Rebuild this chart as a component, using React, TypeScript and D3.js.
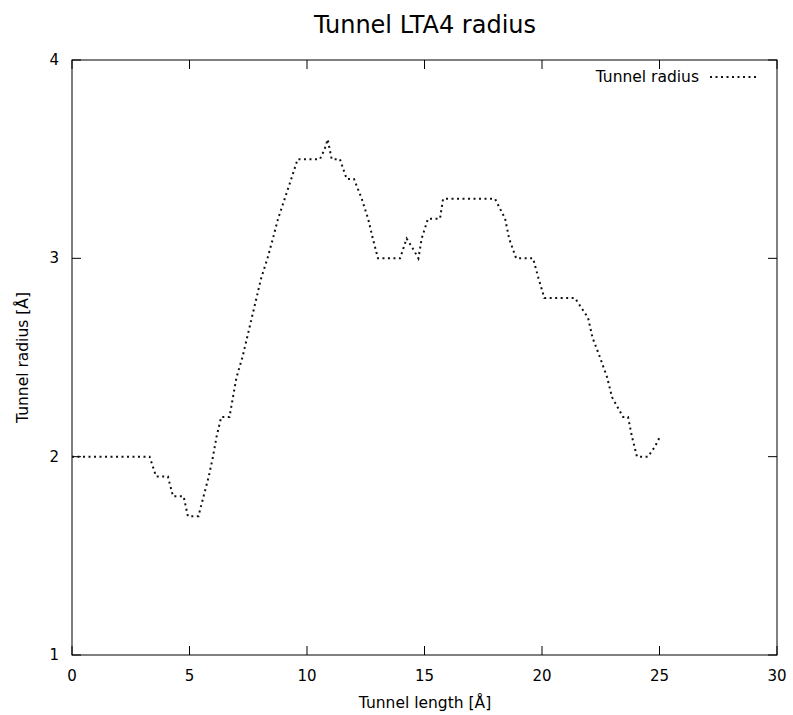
import React from "react";
import * as d3 from "d3";

const title = "Tunnel LTA4 radius";
const xLabel = "Tunnel length [Å]";
const yLabel = "Tunnel radius [Å]";
const seriesName = "Tunnel radius";

const xTicks = [0, 5, 10, 15, 20, 25, 30];
const yTicks = [1, 2, 3, 4];

const lengths = [
  0, 3.3, 3.58, 4.08, 4.3, 4.75, 4.93, 5.38, 5.6, 5.82, 6.0, 6.15, 6.35, 6.7,
  6.85, 7.0, 7.25, 7.45, 7.65, 7.85, 8.05, 8.32, 8.55, 8.77, 9.05, 9.33, 9.6,
  10.55, 10.75, 10.88, 11.05, 11.4, 11.69, 12.0, 12.33, 12.6, 12.8, 13.02, 13.96,
  14.24, 14.5, 14.74, 14.88, 15.15, 15.66, 15.79, 18.0, 18.43, 18.6, 18.9, 19.62,
  19.85, 20.1, 21.4, 21.96, 22.15, 22.47, 22.77, 22.98, 23.45, 23.66, 23.83, 24.04,
  24.51, 24.8, 25.02,
];
const radii = [
  2.0, 2.0, 1.9, 1.9, 1.8, 1.8, 1.7, 1.7, 1.8, 1.9, 2.0, 2.1, 2.2, 2.2,
  2.3, 2.4, 2.5, 2.6, 2.7, 2.8, 2.9, 3.0, 3.1, 3.2, 3.3, 3.4, 3.5,
  3.5, 3.55, 3.6, 3.5, 3.5, 3.4, 3.4, 3.3, 3.2, 3.1, 3.0, 3.0,
  3.1, 3.05, 3.0, 3.1, 3.2, 3.2, 3.3, 3.3, 3.2, 3.1, 3.0, 3.0,
  2.9, 2.8, 2.8, 2.7, 2.6, 2.5, 2.4, 2.3, 2.2, 2.2, 2.1, 2.0,
  2.0, 2.05, 2.1,
];

const W = 793;
const H = 715;
const M = { left: 72, right: 16, top: 60, bottom: 60 };
const FONT = "DejaVu Sans, sans-serif";

export default function App() {
  const x = d3.scaleLinear().domain([0, 30]).range([M.left, W - M.right]);
  const y = d3.scaleLinear().domain([1, 4]).range([H - M.bottom, M.top]);
  const data = lengths.map((l, i) => [l, radii[i]] as [number, number]);
  const line = d3
    .line<[number, number]>()
    .x((d) => x(d[0]))
    .y((d) => y(d[1]));
  const tl = 9;
  const x0 = x(0), x1 = x(30), y0 = y(1), y1 = y(4);
  return (
    <svg
      width={W}
      height={H}
      style={{ position: "absolute", left: 0, top: 0, background: "#fff" }}
      fontFamily={FONT}
    >
      <rect x={0} y={0} width={W} height={H} fill="#fff" />
      <text x={425} y={33} textAnchor="middle" fontSize={24} fill="#000">
        {title}
      </text>
      {xTicks.map((t) => (
        <g key={"x" + t}>
          <line x1={x(t)} x2={x(t)} y1={y0} y2={y0 - tl} stroke="#000" />
          <line x1={x(t)} x2={x(t)} y1={y1} y2={y1 + tl} stroke="#000" />
          <text x={x(t)} y={681} textAnchor="middle" fontSize={15} fill="#000">
            {t}
          </text>
        </g>
      ))}
      {yTicks.map((t) => (
        <g key={"y" + t}>
          <line x1={x0} x2={x0 + tl} y1={y(t)} y2={y(t)} stroke="#000" />
          <line x1={x1} x2={x1 - tl} y1={y(t)} y2={y(t)} stroke="#000" />
          <text x={59} y={y(t) + 5} textAnchor="end" fontSize={15} fill="#000">
            {t}
          </text>
        </g>
      ))}
      <rect
        x={x0}
        y={y1}
        width={x1 - x0}
        height={y0 - y1}
        fill="none"
        stroke="#000"
        strokeWidth={1}
      />
      <text x={425} y={708} textAnchor="middle" fontSize={15.5} fill="#000">
        {xLabel}
      </text>
      <text
        transform={`translate(28, ${(y0 + y1) / 2}) rotate(-90)`}
        textAnchor="middle"
        fontSize={15.5}
        fill="#000"
      >
        {yLabel}
      </text>
      <path
        d={line(data) || ""}
        fill="none"
        stroke="#111"
        strokeWidth={2}
        strokeDasharray="2,3.5"
      />
      <text x={699} y={82} textAnchor="end" fontSize={15.5} fill="#000">
        {seriesName}
      </text>
      <line
        x1={710}
        x2={758}
        y1={77}
        y2={77}
        stroke="#111"
        strokeWidth={2}
        strokeDasharray="2,3.5"
      />
    </svg>
  );
}
